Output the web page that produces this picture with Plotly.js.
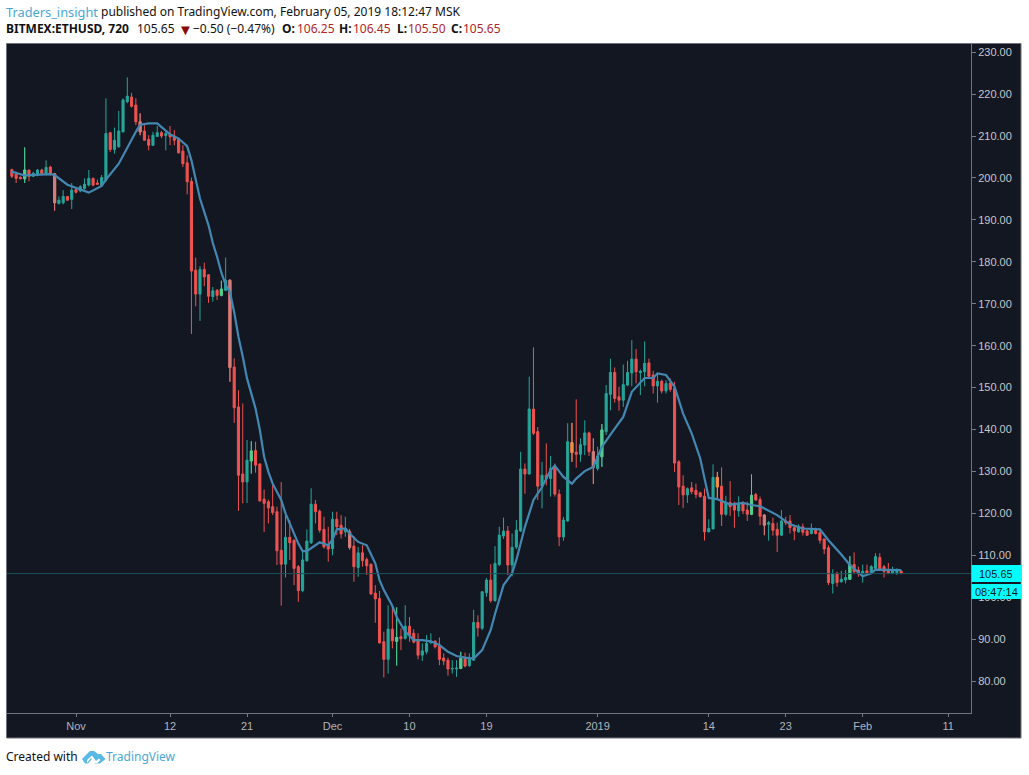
<!DOCTYPE html>
<html>
<head>
<meta charset="utf-8">
<script src="https://cdn.plot.ly/plotly-3.0.1.min.js"></script>
<style>html,body{margin:0;padding:0;background:#fff}#chart{width:1029px;height:775px}</style>
</head>
<body>
<div id="chart"></div>
<script>
var opens = [
202.0,200.9,200.2,199.8,201.9,200.4,200.7,201.9,200.9,202.6,
201.0,193.9,194.1,195.6,194.9,197.2,196.9,197.5,198.3,199.9,
198.8,198.3,199.5,210.8,206.8,207.4,211.0,218.2,219.3,217.4,
213.4,211.2,209.2,207.8,209.9,210.8,210.1,210.4,210.0,209.2,
206.4,203.6,199.2,178.0,172.3,178.2,176.9,171.7,173.2,172.0,
173.2,175.6,154.9,145.4,129.4,127.5,132.5,135.0,131.8,123.4,
122.8,121.6,120.4,111.2,107.9,114.3,113.6,107.3,101.6,108.7,
113.0,122.2,120.5,116.2,112.4,111.6,118.6,117.2,115.6,115.6,
112.2,107.1,110.6,109.0,107.9,101.0,99.7,89.4,85.2,92.4,
89.5,90.6,90.2,93.1,91.4,89.8,86.2,87.0,89.2,89.5,
88.4,85.5,85.0,82.9,82.9,83.0,85.6,83.7,85.0,94.0,
92.6,101.1,104.1,99.2,107.8,114.6,115.8,107.7,112.0,115.8,
130.6,129.4,144.9,139.5,126.5,129.1,128.3,131.1,124.6,114.4,
118.2,136.9,134.6,134.1,136.3,139.2,134.7,130.7,133.5,139.5,
148.4,153.6,147.8,147.0,150.6,153.5,156.8,153.6,153.8,155.9,
153.0,150.4,151.5,149.2,151.1,149.8,132.3,126.5,124.4,126.1,
125.5,124.9,124.1,115.6,116.3,128.6,126.5,119.8,122.6,122.4,
120.6,122.6,120.8,119.8,124.5,123.3,119.6,117.4,117.6,116.2,
114.8,118.2,118.2,116.6,115.6,116.8,115.8,115.2,116.2,115.4,
113.9,111.8,103.3,105.7,103.7,104.1,104.3,107.8,106.5,105.7,
106.3,105.9,106.9,109.5,107.3,106.5,105.7,105.9,106.25];
var highs = [
202.2,201.5,200.3,207.3,201.9,201.5,202.1,202.2,204.2,202.9,
201.2,195.6,197.1,195.7,198.8,197.4,198.3,199.9,201.9,200.1,
199.6,200.7,219.0,211.0,212.0,216.0,219.0,224.0,220.3,219.0,
215.4,212.6,210.2,211.0,212.4,211.2,211.4,212.4,211.4,209.6,
207.8,205.4,200.1,181.0,179.0,179.8,177.0,174.0,173.5,175.5,
181.0,175.8,157.0,149.4,146.2,137.5,137.2,137.1,131.9,125.7,
123.3,126.8,121.6,127.5,119.6,118.4,113.8,107.7,111.2,116.2,
126.0,123.2,120.9,119.2,116.8,120.4,120.4,119.6,119.2,116.2,
114.6,112.0,112.4,109.5,108.0,102.9,101.5,91.8,98.1,98.1,
97.6,92.6,98.1,95.3,92.4,91.4,89.0,91.0,91.4,89.8,
90.4,86.6,85.6,85.0,85.0,87.0,86.8,86.6,97.0,95.7,
101.5,104.6,107.9,112.2,116.8,119.0,117.0,115.2,118.4,134.7,
131.9,152.6,159.6,140.6,132.3,136.7,133.7,131.9,125.7,119.2,
141.5,141.6,147.2,137.9,142.2,139.5,137.9,135.9,141.3,150.6,
156.9,154.8,150.2,155.5,156.4,161.3,159.2,154.3,161.0,156.9,
154.0,153.4,151.9,151.8,152.2,151.4,132.7,129.1,126.2,127.5,
127.1,125.2,125.9,118.6,131.7,129.9,131.0,124.2,127.7,122.8,
124.1,122.9,122.8,129.3,124.9,124.0,119.8,118.2,119.0,117.8,
120.8,119.2,119.6,117.2,117.4,117.6,116.2,117.6,116.6,116.2,
114.0,112.4,106.7,106.1,106.3,106.5,109.8,110.7,107.3,107.8,
107.8,107.7,110.5,110.5,107.7,108.2,107.3,106.9,106.45];
var lows = [
200.0,198.8,199.7,198.8,199.2,200.2,200.4,200.7,200.6,200.6,
192.2,193.7,193.7,194.6,192.6,196.3,196.6,197.2,198.0,198.0,
198.4,198.0,199.1,206.2,205.8,207.3,210.8,217.8,216.8,212.6,
210.2,208.9,206.6,207.6,209.8,209.5,206.6,207.8,207.8,205.8,
202.6,196.1,162.8,169.4,165.9,174.2,170.2,170.5,170.9,171.8,
173.0,151.4,141.6,120.6,122.4,122.5,129.5,129.7,122.8,115.6,
117.6,119.6,107.7,98.0,104.7,108.9,102.9,98.9,101.2,108.5,
112.7,117.6,115.4,111.6,108.5,110.0,114.8,114.0,114.4,111.4,
103.7,104.9,107.3,105.3,100.5,93.9,89.0,80.9,81.8,87.8,
83.7,87.4,89.9,89.4,89.0,85.2,84.8,86.4,88.8,87.8,
83.8,83.8,81.3,81.8,81.0,82.9,83.3,83.4,84.9,90.6,
92.2,100.1,98.7,98.9,107.4,113.9,105.3,105.0,111.5,115.6,
124.7,129.3,138.7,123.2,121.2,126.7,124.0,124.0,112.2,113.5,
118.0,132.3,130.9,132.3,133.9,133.7,127.0,130.2,131.1,138.7,
144.6,146.4,144.5,145.4,150.3,150.3,151.0,148.2,150.3,152.2,
148.6,146.4,148.6,148.6,149.0,129.9,122.0,121.3,122.5,124.6,
123.6,123.8,113.5,115.5,116.2,123.6,117.0,119.4,119.4,116.6,
119.2,119.8,118.2,119.6,123.0,117.2,114.8,113.5,114.7,110.8,
114.6,117.2,115.2,113.6,115.4,114.7,114.6,115.0,115.0,112.8,
110.3,102.9,100.9,102.5,103.5,103.3,104.2,105.8,104.9,103.5,
105.5,105.5,106.7,106.5,104.7,105.5,105.5,105.3,105.5];
var closes = [
200.4,199.9,199.8,201.9,200.4,201.1,201.9,201.0,202.5,200.9,
194.1,194.7,195.6,194.7,197.1,196.6,197.9,198.5,199.9,198.3,
198.5,200.1,210.6,206.8,209.0,211.2,218.6,219.5,217.1,213.4,
211.0,209.0,207.8,210.2,210.8,210.0,210.6,209.8,209.0,206.0,
203.4,199.1,177.8,172.3,178.2,176.4,171.8,173.1,172.0,173.5,
175.6,154.8,145.2,129.1,127.5,132.7,134.9,131.5,123.0,122.4,
121.3,120.2,111.1,107.9,114.3,113.0,106.9,101.6,108.9,113.4,
122.2,120.4,116.0,112.0,111.5,118.6,116.8,115.1,116.4,111.9,
107.3,110.6,108.7,107.5,100.8,99.6,89.1,85.2,92.4,89.6,
90.4,90.1,93.1,91.0,89.3,86.2,87.2,89.0,89.4,88.2,
85.2,84.8,82.9,83.0,83.1,85.4,83.6,85.2,94.0,92.7,
101.3,104.1,99.2,108.1,114.8,115.8,107.7,111.9,116.0,130.6,
129.4,144.9,139.1,126.5,129.1,128.3,130.7,124.6,114.4,118.4,
137.1,134.5,134.1,136.4,139.2,134.7,131.0,133.7,139.9,148.6,
153.6,147.4,147.0,150.7,153.6,156.8,153.8,153.9,155.8,152.7,
150.4,151.5,149.2,151.0,149.6,132.0,126.3,124.4,125.9,125.2,
124.5,124.0,115.6,116.4,128.6,126.3,119.8,122.6,121.6,120.8,
122.4,120.6,119.8,124.3,123.2,119.3,117.2,117.8,116.0,114.8,
118.2,117.8,116.6,115.8,116.8,115.5,114.8,116.4,115.2,113.6,
111.5,103.5,105.5,103.5,104.3,104.7,107.8,106.1,105.7,106.2,
105.7,107.3,109.7,106.7,106.1,105.7,106.5,106.5,105.65];

var lineIndex = [0,3,9,10,13,15,18,21,22,25,27,29,30,32,34,37,39,41,42,43,44,46,47,48,49,50,51,52,53,54,55,57,58,59,60,61,63,64,66,67,68,69,71,72,74,75,76,78,79,81,83,85,86,87,89,90,92,94,96,98,100,102,104,106,108,110,112,113,115,117,118,120,122,124,126,127,129,131,132,134,136,138,141,143,145,148,150,151,153,155,157,159,161,163,165,168,171,173,175,179,182,185,189,191,194,196,199,201,202,205,208];
var lineValues = [201.5,200.6,200.9,200.7,198.4,197.7,196.5,198.1,199.6,203.4,207.3,211,212.7,213,213,210.4,209.4,207.6,204.2,199.9,195.1,188.7,184.5,181.2,177.4,174.5,172.8,168,162.1,157.4,152.2,145,139.9,133.5,129.9,127.1,123.2,120,115.2,112.8,111,111,112.4,113.1,112.4,113.8,116.2,116.4,115.2,113.2,112.4,108.1,104.1,101.7,97.9,95.3,91.8,89.8,89.8,89.5,88.6,87,86,85.6,85.4,87.4,92.2,96,102.9,105.7,108.9,116.8,123.2,126.3,130.3,131.4,128.7,127.1,128.3,130.1,131.1,135.9,140.2,143,149,152.3,152.3,153.4,153,150.2,143.8,139.1,133.1,123.7,123.4,122.1,122.5,122,121.7,119.6,117.4,116.4,116.2,113.6,110.2,107.7,105,105.7,106.6,106.5,106.5];

var lightGreenCandles = [3,49,56,90,105,138,173,196];
var pinkCandles = [10,30,51,79,136,176];
var orangeCandles = [131,165];

var firstCandle = Date.UTC(2018, 9, 24, 12);
var halfDay = 12 * 3600 * 1000;
var times = opens.map(function (_, i) { return new Date(firstCandle + i * halfDay).toISOString(); });

var tickDates = ['2018-11-01','2018-11-12','2018-11-21','2018-12-01','2018-12-10','2018-12-19','2019-01-01','2019-01-14','2019-01-23','2019-02-01','2019-02-11'];
var tickLabels = ['Nov','12','21','Dec','10','19','2019','14','23','Feb','11'];
var lastPrice = 105.65;
var countdown = '08:47:14';

var W = 1029, H = 775, L = 7, R = 971, T = 44, B = 713;
function px(x) { return (x - L) / (R - L); }
function py(y) { return (B - y) / (B - T); }

var UP = '#26a69a', DOWN = '#ef5350';

function candleTrace(indices, up, down) {
  function pick(a) { return indices.map(function (i) { return a[i]; }); }
  return {
    type: 'candlestick', x: pick(times), open: pick(opens), high: pick(highs), low: pick(lows), close: pick(closes),
    increasing: {line: {color: up, width: 1}, fillcolor: up},
    decreasing: {line: {color: down, width: 1}, fillcolor: down},
    whiskerwidth: 0, showlegend: false, hoverinfo: 'skip'
  };
}
var allCandles = opens.map(function (_, i) { return i; });
var traces = [
  candleTrace(allCandles, UP, DOWN),
  candleTrace(lightGreenCandles, '#58c98b', '#58c98b'),
  candleTrace(pinkCandles, '#cf7f7b', '#cf7f7b'),
  candleTrace(orangeCandles, '#ec8f45', '#ec8f45'),
  {type: 'scatter', mode: 'lines', x: lineIndex.map(function (i) { return times[i]; }), y: lineValues,
   line: {color: '#4488b2', width: 2.2}, showlegend: false, hoverinfo: 'skip'}
];

var HEAD = '"Noto Sans", sans-serif';
var TICK = '"Liberation Sans", Arial, sans-serif';
function label(x, y, text, color, size, bold, font) {
  return {xref: 'paper', yref: 'paper', x: px(x), y: py(y), xanchor: 'left', yanchor: 'middle', showarrow: false,
    text: bold ? '<b>' + text + '</b>' : text, font: {family: font || HEAD, size: size || 12, color: color || '#111'}, borderpad: 0, borderwidth: 0};
}
function tag(yTop, yBot, text) {
  return {xref: 'paper', yref: 'paper', x: px(996.5), y: py((yTop + yBot) / 2), xanchor: 'center', yanchor: 'middle', showarrow: false,
    text: text, font: {family: TICK, size: 11, color: '#0b1a20'}};
}
var RED = '#b0242a';
var annotations = [
  label(6, 12, 'Traders_insight', '#4aa8d8', 12.8),
  label(101, 12, 'published on TradingView.com, February 05, 2019 18:12:47 MSK'),
  label(6, 29, 'BITMEX:ETHUSD, 720', '#111', 12, true),
  label(137, 29, '105.65'),
  label(178, 29, '▼', '#8b0a0a', 15),
  label(193, 29, '−0.50 (−0.47%)'),
  label(282, 29, 'O:', '#111', 12, true),
  label(297, 29, '106.25', RED),
  label(339, 29, 'H:', '#111', 12, true),
  label(353, 29, '106.45', RED),
  label(397, 29, 'L:', '#111', 12, true),
  label(408, 29, '105.50', RED),
  label(451, 29, 'C:', '#111', 12, true),
  label(463, 29, '105.65', RED),
  label(6, 757, 'Created with'),
  label(106, 757, 'TradingView', '#4aa8d8'),
  tag(565, 582, lastPrice.toFixed(2)),
  tag(584, 599, countdown)
];

function rect(x0, y0, x1, y1, fill, line, layer) {
  return {type: 'rect', xref: 'paper', yref: 'paper', x0: px(x0), x1: px(x1), y0: py(y0), y1: py(y1),
    fillcolor: fill, line: {color: line || fill, width: line ? 1 : 0}, layer: layer || 'above'};
}
function poly(points, fill) {
  var d = points.map(function (p, i) { return (i ? 'L' : 'M') + px(p[0]).toFixed(5) + ',' + py(p[1]).toFixed(5); }).join(' ') + ' Z';
  return {type: 'path', xref: 'paper', yref: 'paper', path: d, fillcolor: fill, line: {color: fill, width: 0}, layer: 'above'};
}
var shapes = [
  rect(6.5, 43.5, 1021, 738, '#131722', '#6f737c', 'below'),
  {type: 'line', xref: 'paper', yref: 'y', x0: 0, x1: 1, y0: lastPrice, y1: lastPrice, line: {color: '#1a535e', width: 1}, layer: 'above'},
  rect(971.5, 565, 1022, 582, '#00ffff'),
  rect(971.5, 584, 1022, 599, '#00ffff'),
  poly([[82,759],[90,751],[94,751],[98,754],[101,754],[105.5,759],[100,763.5],[95,763.5],[92,759],[88,763.5],[85,763.5]], '#5ab9e6'),
  poly([[87,760],[92,755.5],[96,761],[99,758.5],[100.5,760],[97.5,763],[94,763],[91,758],[87,763]], '#ffffff')
];

var layout = {
  width: W, height: H,
  margin: {l: L, r: W - R, t: T, b: H - B, pad: 0},
  paper_bgcolor: '#ffffff', plot_bgcolor: '#131722',
  boxmode: 'overlay', boxgap: 0.3, showlegend: false, hovermode: false, dragmode: false,
  xaxis: {type: 'date', range: ['2018-10-23T22:20:00', '2019-02-13T16:00:00'], rangeslider: {visible: false},
    tickmode: 'array', tickvals: tickDates, ticktext: tickLabels, showgrid: false, zeroline: false,
    showline: true, linecolor: '#6f737c', linewidth: 1, ticks: 'outside', ticklen: 3, tickcolor: '#787b86', tickwidth: 1,
    tickfont: {family: TICK, size: 11, color: '#b2b5be'}},
  yaxis: {side: 'right', range: [72.4, 231.95], tickmode: 'linear', tick0: 80, dtick: 10, tickformat: '.2f',
    showgrid: false, zeroline: false, showline: true, linecolor: '#6f737c', linewidth: 1,
    ticks: 'outside', ticklen: 4, tickcolor: '#787b86', tickwidth: 1,
    tickfont: {family: TICK, size: 11, color: '#c4c7ce'}},
  shapes: shapes, annotations: annotations
};
Plotly.newPlot('chart', traces, layout, {displayModeBar: false, staticPlot: true});
</script>
</body>
</html>
